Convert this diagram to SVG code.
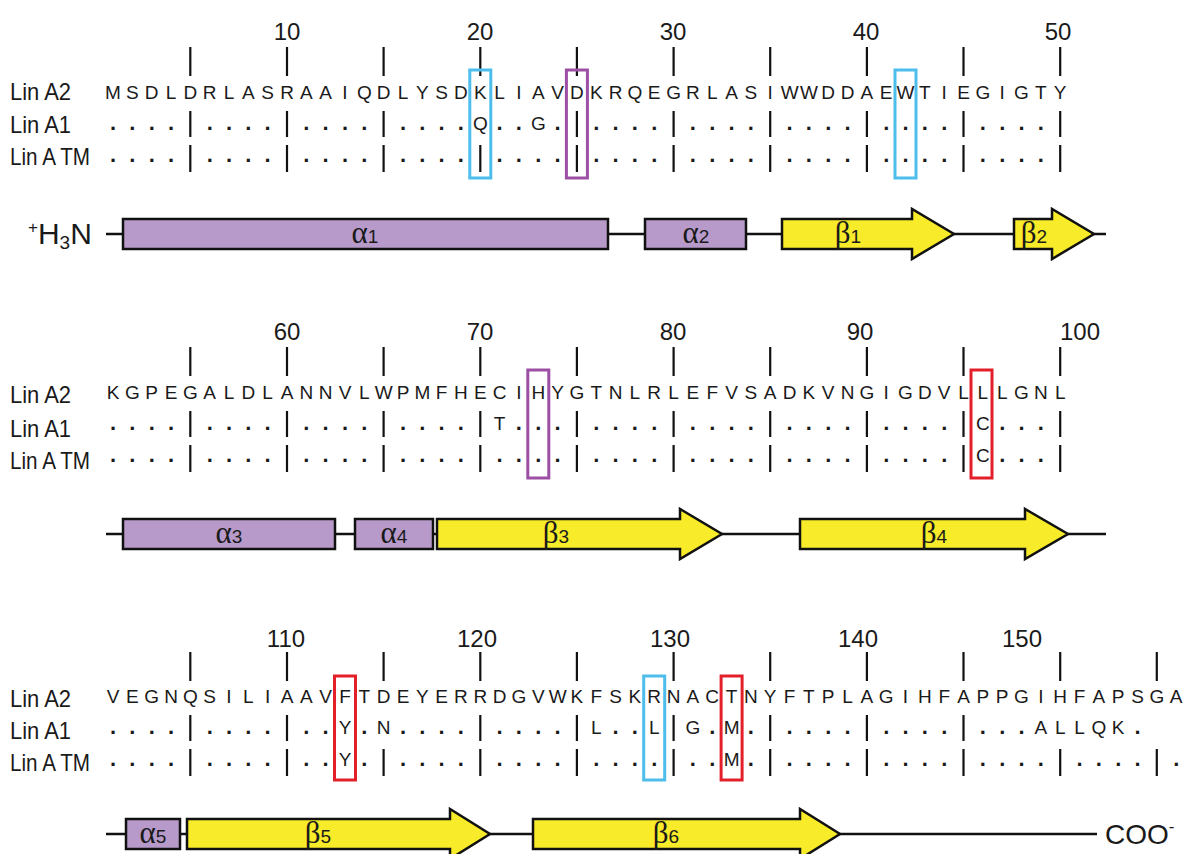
<svg xmlns="http://www.w3.org/2000/svg" width="1184" height="854" viewBox="0 0 1184 854">
<defs>
<style>
text{font-family:"Liberation Sans",Arial,sans-serif;fill:#1a1a1a}
.seq{font-size:19px;text-anchor:middle}
.dot{font-size:22px;font-weight:bold;text-anchor:middle}
.lbl{font-size:24px}
.num{font-size:24px;text-anchor:middle}
.bar{stroke:#111;stroke-width:2.2;fill:none}
.box{fill:none;stroke-width:3}
.blue{stroke:#4DBDEB}
.purple{stroke:#9C4FA5}
.red{stroke:#E3202A}
.helix{fill:#B79ACA;stroke:#111;stroke-width:2.5}
.strand{fill:#F8EB2A;stroke:#111;stroke-width:2.5;stroke-linejoin:miter}
.bb{stroke:#111;stroke-width:2.5;fill:none}
.gr{font-family:"Liberation Serif","Times New Roman",serif;font-size:31px}
.dg{font-size:19px}
.ss{text-anchor:middle}
</style>
</defs>
<rect width="1184" height="854" fill="#fff"/>

<!-- ===== Block 1 ===== -->
<g id="block1">
<g id="b1-numbers">
<text class="num" x="287" y="40">10</text>
<text class="num" x="480" y="40">20</text>
<text class="num" x="673" y="40">30</text>
<text class="num" x="866" y="40">40</text>
<text class="num" x="1058" y="40">50</text>
<path class="bar" d="M190.3 47V76M287 47V76M383.6 47V76M480.3 47V76M576.9 47V76M673.6 47V76M770.2 47V76M866.9 47V76M963.5 47V76M1060.2 47V76"/>
</g>
<g id="b1-labels">
<text class="lbl" x="10" y="100" textLength="61" lengthAdjust="spacingAndGlyphs">Lin A2</text>
<text class="lbl" x="10" y="133" textLength="61" lengthAdjust="spacingAndGlyphs">Lin A1</text>
<text class="lbl" x="10" y="165" textLength="80" lengthAdjust="spacingAndGlyphs">Lin A TM</text>
</g>
<g id="b1-linA2">
<text class="seq" y="99" x="113 132.3 151.7 171 190.3 209.7 229 248.3 267.6 287 306.3 325.6 345 364.3 383.6 403 422.3 441.6 460.9 480.3 499.6 518.9 538.3 557.6 576.9 596.3 615.6 634.9 654.2 673.6 692.9 712.2 731.6 750.9 770.2 789.6 808.9 828.2 847.5 866.9 886.2 905.5 924.9 944.2 963.5 982.9 1002.2 1021.5 1040.8 1060.2">MSDLDRLASRAAIQDLYSDKLIAVDKRQEGRLASIWWDDAEWTIEGIGTY</text>
</g>
<g id="b1-linA1">
<text class="dot" y="130" x="113 132.3 151.7 171 209.7 229 248.3 267.6 306.3 325.6 345 364.3 403 422.3 441.6 460.9">................</text>
<text class="seq" x="480.3" y="130">Q</text>
<text class="dot" y="130" x="499.6 518.9">..</text>
<text class="seq" x="538.3" y="130">G</text>
<text class="dot" y="130" x="557.6 596.3 615.6 634.9 654.2 692.9 712.2 731.6 750.9 789.6 808.9 828.2 847.5 886.2 905.5 924.9 944.2 982.9 1002.2 1021.5 1040.8">.....................</text>
<path class="bar" d="M190.3 111V137M287 111V137M383.6 111V137M576.9 111V137M673.6 111V137M770.2 111V137M866.9 111V137M963.5 111V137M1060.2 111V137"/>
</g>
<g id="b1-linATM">
<text class="dot" y="162" x="113 132.3 151.7 171 209.7 229 248.3 267.6 306.3 325.6 345 364.3 403 422.3 441.6 460.9 499.6 518.9 538.3 557.6 596.3 615.6 634.9 654.2 692.9 712.2 731.6 750.9 789.6 808.9 828.2 847.5 886.2 905.5 924.9 944.2 982.9 1002.2 1021.5 1040.8">........................................</text>
<path class="bar" d="M190.3 145V172M287 145V172M383.6 145V172M480.3 145V172M576.9 145V172M673.6 145V172M770.2 145V172M866.9 145V172M963.5 145V172M1060.2 145V172"/>
</g>
<g id="b1-boxes">
<rect class="box blue" x="469.8" y="70" width="21" height="108"/>
<rect class="box purple" x="566.4" y="70" width="21" height="108"/>
<rect class="box blue" x="895" y="70" width="21" height="108"/>
</g>
<g id="b1-structure">
<path class="bb" d="M106 234H1106"/>
<text class="lbl" x="28" y="244" style="font-size:30px"><tspan style="font-size:17px" dy="-11">+</tspan><tspan dy="11">H</tspan><tspan style="font-size:19px" dy="5">3</tspan><tspan dy="-5">N</tspan></text>
<rect class="helix" x="123" y="219" width="485" height="30"/>
<text class="ss" x="365" y="243"><tspan class="gr">α</tspan><tspan class="dg">1</tspan></text>
<rect class="helix" x="645" y="219" width="101" height="30"/>
<text class="ss" x="696" y="243"><tspan class="gr">α</tspan><tspan class="dg">2</tspan></text>
<polygon class="strand" points="782,219 912,219 912,209 954,234 912,259 912,249 782,249"/>
<text class="ss" x="848" y="243"><tspan class="gr">β</tspan><tspan class="dg">1</tspan></text>
<polygon class="strand" points="1014,219 1052,219 1052,209 1094,234 1052,259 1052,249 1014,249"/>
<text class="ss" x="1034" y="243"><tspan class="gr">β</tspan><tspan class="dg">2</tspan></text>
</g>
</g>

<!-- ===== Block 2 ===== -->
<g id="block2">
<g id="b2-numbers">
<text class="num" x="287" y="340">60</text>
<text class="num" x="480" y="340">70</text>
<text class="num" x="673" y="340">80</text>
<text class="num" x="860" y="340">90</text>
<text class="num" x="1080" y="340">100</text>
<path class="bar" d="M190.3 347V376M287 347V376M383.6 347V376M480.3 347V376M576.9 347V376M673.6 347V376M770.2 347V376M866.9 347V376M963.5 347V376M1060.2 347V376"/>
</g>
<g id="b2-labels">
<text class="lbl" x="10" y="403" textLength="61" lengthAdjust="spacingAndGlyphs">Lin A2</text>
<text class="lbl" x="10" y="437" textLength="61" lengthAdjust="spacingAndGlyphs">Lin A1</text>
<text class="lbl" x="10" y="469" textLength="80" lengthAdjust="spacingAndGlyphs">Lin A TM</text>
</g>
<g id="b2-linA2">
<text class="seq" y="399" x="113 132.3 151.7 171 190.3 209.7 229 248.3 267.6 287 306.3 325.6 345 364.3 383.6 403 422.3 441.6 460.9 480.3 499.6 518.9 538.3 557.6 576.9 596.3 615.6 634.9 654.2 673.6 692.9 712.2 731.6 750.9 770.2 789.6 808.9 828.2 847.5 866.9 886.2 905.5 924.9 944.2 963.5 982.9 1002.2 1021.5 1040.8 1060.2">KGPEGALDLANNVLWPMFHECIHYGTNLRLEFVSADKVNGIGDVLLLGNL</text>
</g>
<g id="b2-linA1">
<text class="dot" y="430" x="113 132.3 151.7 171 209.7 229 248.3 267.6 306.3 325.6 345 364.3 403 422.3 441.6 460.9">................</text>
<text class="seq" x="499.6" y="430">T</text>
<text class="dot" y="430" x="518.9 538.3 557.6 596.3 615.6 634.9 654.2 692.9 712.2 731.6 750.9 789.6 808.9 828.2 847.5 886.2 905.5 924.9 944.2">...................</text>
<text class="seq" x="982.9" y="430">C</text>
<text class="dot" y="430" x="1002.2 1021.5 1040.8">...</text>
<path class="bar" d="M190.3 411V437M287 411V437M383.6 411V437M480.3 411V437M576.9 411V437M673.6 411V437M770.2 411V437M866.9 411V437M963.5 411V437M1060.2 411V437"/>
</g>
<g id="b2-linATM">
<text class="dot" y="462" x="113 132.3 151.7 171 209.7 229 248.3 267.6 306.3 325.6 345 364.3 403 422.3 441.6 460.9 499.6 518.9 538.3 557.6 596.3 615.6 634.9 654.2 692.9 712.2 731.6 750.9 789.6 808.9 828.2 847.5 886.2 905.5 924.9 944.2">....................................</text>
<text class="seq" x="982.9" y="462">C</text>
<text class="dot" y="462" x="1002.2 1021.5 1040.8">...</text>
<path class="bar" d="M190.3 445V472M287 445V472M383.6 445V472M480.3 445V472M576.9 445V472M673.6 445V472M770.2 445V472M866.9 445V472M963.5 445V472M1060.2 445V472"/>
</g>
<g id="b2-boxes">
<rect class="box purple" x="527.8" y="370" width="21" height="108"/>
<rect class="box red" x="971" y="370" width="21" height="108"/>
</g>
<g id="b2-structure">
<path class="bb" d="M106 534H1106"/>
<rect class="helix" x="123" y="519" width="212" height="30"/>
<text class="ss" x="229" y="543"><tspan class="gr">α</tspan><tspan class="dg">3</tspan></text>
<rect class="helix" x="355" y="519" width="78" height="30"/>
<text class="ss" x="394" y="543"><tspan class="gr">α</tspan><tspan class="dg">4</tspan></text>
<polygon class="strand" points="437,519 680,519 680,509 722,534 680,559 680,549 437,549"/>
<text class="ss" x="556" y="543"><tspan class="gr">β</tspan><tspan class="dg">3</tspan></text>
<polygon class="strand" points="800,519 1025,519 1025,509 1068,534 1025,559 1025,549 800,549"/>
<text class="ss" x="934" y="543"><tspan class="gr">β</tspan><tspan class="dg">4</tspan></text>
</g>
</g>

<!-- ===== Block 3 ===== -->
<g id="block3">
<g id="b3-numbers">
<text class="num" x="286" y="647">110</text>
<text class="num" x="477" y="647">120</text>
<text class="num" x="670" y="647">130</text>
<text class="num" x="858" y="647">140</text>
<text class="num" x="1022" y="647">150</text>
<path class="bar" d="M190.3 652V681M287 652V681M383.6 652V681M480.3 652V681M576.9 652V681M673.6 652V681M770.2 652V681M866.9 652V681M963.5 652V681M1060.2 652V681M1156.8 652V681"/>
</g>
<g id="b3-labels">
<text class="lbl" x="10" y="707" textLength="61" lengthAdjust="spacingAndGlyphs">Lin A2</text>
<text class="lbl" x="10" y="739" textLength="61" lengthAdjust="spacingAndGlyphs">Lin A1</text>
<text class="lbl" x="10" y="771" textLength="80" lengthAdjust="spacingAndGlyphs">Lin A TM</text>
</g>
<g id="b3-linA2">
<text class="seq" y="703" x="113 132.3 151.7 171 190.3 209.7 229 248.3 267.6 287 306.3 325.6 345 364.3 383.6 403 422.3 441.6 460.9 480.3 499.6 518.9 538.3 557.6 576.9 596.3 615.6 634.9 654.2 673.6 692.9 712.2 731.6 750.9 770.2 789.6 808.9 828.2 847.5 866.9 886.2 905.5 924.9 944.2 963.5 982.9 1002.2 1021.5 1040.8 1060.2 1079.5 1098.8 1118.2 1137.5 1156.8 1176.2">VEGNQSILIAAVFTDEYERRDGVWKFSKRNACTNYFTPLAGIHFAPPGIHFAPSGA</text>
</g>
<g id="b3-linA1">
<text class="dot" y="734" x="113 132.3 151.7 171 209.7 229 248.3 267.6 306.3 325.6">..........</text>
<text class="seq" x="345" y="734">Y</text>
<text class="dot" x="364.3" y="734">.</text>
<text class="seq" x="383.6" y="734">N</text>
<text class="dot" y="734" x="403 422.3 441.6 460.9 499.6 518.9 538.3 557.6">........</text>
<text class="seq" x="596.3" y="734">L</text>
<text class="dot" y="734" x="615.6 634.9">..</text>
<text class="seq" x="654.2" y="734">L</text>
<text class="seq" x="692.9" y="734">G</text>
<text class="dot" x="712.2" y="734">.</text>
<text class="seq" x="731.6" y="734">M</text>
<text class="dot" y="734" x="750.9 789.6 808.9 828.2 847.5 886.2 905.5 924.9 944.2 982.9 1002.2 1021.5">............</text>
<text class="seq" y="734" x="1040.8 1060.2 1079.5 1098.8 1118.2">ALLQK</text>
<text class="dot" x="1137.5" y="734">.</text>
<path class="bar" d="M190.3 715V741M287 715V741M480.3 715V741M576.9 715V741M673.6 715V741M770.2 715V741M866.9 715V741M963.5 715V741"/>
</g>
<g id="b3-linATM">
<text class="dot" y="766" x="113 132.3 151.7 171 209.7 229 248.3 267.6 306.3 325.6">..........</text>
<text class="seq" x="345" y="766">Y</text>
<text class="dot" y="766" x="364.3 403 422.3 441.6 460.9 499.6 518.9 538.3 557.6 596.3 615.6 634.9 654.2 692.9 712.2">...............</text>
<text class="seq" x="731.6" y="766">M</text>
<text class="dot" y="766" x="750.9 789.6 808.9 828.2 847.5 886.2 905.5 924.9 944.2 982.9 1002.2 1021.5 1040.8 1079.5 1098.8 1118.2 1137.5 1176.2">..................</text>
<path class="bar" d="M190.3 749V776M287 749V776M383.6 749V776M480.3 749V776M576.9 749V776M673.6 749V776M770.2 749V776M866.9 749V776M963.5 749V776M1060.2 749V776M1156.8 749V776"/>
</g>
<g id="b3-boxes">
<rect class="box red" x="334.5" y="676" width="21" height="104"/>
<rect class="box blue" x="643.7" y="676" width="21" height="104"/>
<rect class="box red" x="721.1" y="676" width="21" height="104"/>
</g>
<g id="b3-structure">
<path class="bb" d="M106 834H1097"/>
<rect class="helix" x="126" y="819" width="54" height="30"/>
<text class="ss" x="153" y="843"><tspan class="gr">α</tspan><tspan class="dg">5</tspan></text>
<polygon class="strand" points="187,819 450,819 450,809 490,834 450,859 450,849 187,849"/>
<text class="ss" x="318" y="843"><tspan class="gr">β</tspan><tspan class="dg">5</tspan></text>
<polygon class="strand" points="533,819 800,819 800,809 840,834 800,859 800,849 533,849"/>
<text class="ss" x="666" y="843"><tspan class="gr">β</tspan><tspan class="dg">6</tspan></text>
<text class="lbl" x="1105" y="844" style="font-size:28px">COO<tspan style="font-size:17px" dy="-12">-</tspan></text>
</g>
</g>
</svg>
